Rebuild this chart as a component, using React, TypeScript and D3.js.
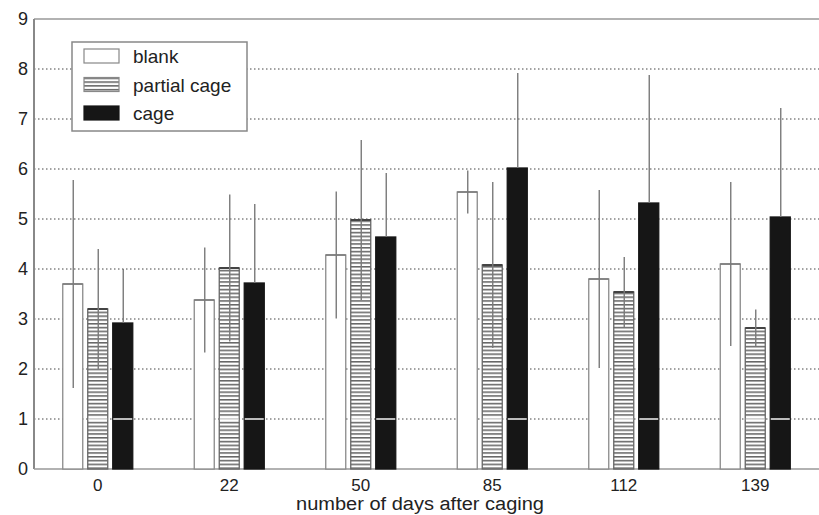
import React, { useEffect, useRef } from 'react';
import * as d3 from 'd3';

// days after caging (x categories)
const days = ['0', '22', '50', '85', '112', '139'];
const seriesNames = ['blank', 'partial cage', 'cage'];

// means
const blank = [3.7, 3.38, 4.28, 5.54, 3.8, 4.1];
const partialCage = [3.2, 4.02, 4.98, 4.08, 3.54, 2.82];
const cage = [2.92, 3.72, 4.64, 6.02, 5.32, 5.04];

// error bar half-lengths
const blankErr = [2.08, 1.05, 1.27, 0.43, 1.78, 1.64];
const partialErr = [1.2, 1.47, 1.6, 1.66, 0.7, 0.37];
const cageErr = [1.08, 1.58, 1.28, 1.9, 2.56, 2.18];

const yTicks = [0, 1, 2, 3, 4, 5, 6, 7, 8, 9];

const W = 819;
const H = 515;

const App = () => {
  const ref = useRef<SVGSVGElement>(null);

  useEffect(() => {
    const svg = d3.select(ref.current);
    svg.selectAll('*').remove();

    const left = 34;
    const font = 'Liberation Sans, Arial, sans-serif';

    const x0 = d3.scaleBand().domain(days).range([32, 821]).padding(0);
    const bw = x0.bandwidth();
    const x1 = d3.scaleBand().domain(seriesNames)
      .range([bw / 2 - 35, bw / 2 + 35]).paddingInner(0.2);
    const y = d3.scaleLinear().domain([0, 9]).range([469, 19]);

    const rows = days.map((d, i) => ({
      day: d,
      vals: [
        { s: 'blank', v: blank[i], e: blankErr[i] },
        { s: 'partial cage', v: partialCage[i], e: partialErr[i] },
        { s: 'cage', v: cage[i], e: cageErr[i] },
      ],
    }));

    // hatch pattern for partial cage
    const defs = svg.append('defs');
    const pat = defs.append('pattern')
      .attr('id', 'hatch')
      .attr('patternUnits', 'userSpaceOnUse')
      .attr('width', 8)
      .attr('height', 3.8);
    pat.append('rect').attr('width', 8).attr('height', 3.8).attr('fill', '#fff');
    pat.append('line')
      .attr('x1', 0).attr('x2', 8).attr('y1', 0.8).attr('y2', 0.8)
      .attr('stroke', '#555').attr('stroke-width', 1.4);

    const fillFor = (s: string) => s === 'blank' ? '#fff' : s === 'cage' ? '#161616' : 'url(#hatch)';

    // grid lines
    svg.append('g')
      .selectAll('line')
      .data(yTicks.filter(t => t > 0 && t < 9))
      .enter().append('line')
      .attr('x1', left).attr('x2', W)
      .attr('y1', d => y(d)).attr('y2', d => y(d))
      .attr('stroke', '#444')
      .attr('stroke-width', 1)
      .attr('stroke-dasharray', '1.5,2.5');

    // frame: top, left, bottom
    svg.append('line').attr('x1', left).attr('x2', W).attr('y1', y(9)).attr('y2', y(9))
      .attr('stroke', '#999').attr('stroke-width', 1.5);
    svg.append('line').attr('x1', left).attr('x2', left).attr('y1', y(9)).attr('y2', y(0))
      .attr('stroke', '#888').attr('stroke-width', 2);
    svg.append('line').attr('x1', left).attr('x2', W).attr('y1', y(0)).attr('y2', y(0))
      .attr('stroke', '#999').attr('stroke-width', 1.5);

    // bars
    const groups = svg.append('g')
      .selectAll('g')
      .data(rows)
      .enter().append('g')
      .attr('transform', d => `translate(${x0(d.day)},0)`);

    groups.selectAll('rect')
      .data(d => d.vals)
      .enter().append('rect')
      .attr('x', d => x1(d.s)!)
      .attr('y', d => y(d.v))
      .attr('width', x1.bandwidth())
      .attr('height', d => y(0) - y(d.v))
      .attr('fill', d => fillFor(d.s))
      .attr('stroke', d => d.s === 'cage' ? '#161616' : d.s === 'blank' ? '#8a8a8a' : '#666')
      .attr('stroke-width', 1.3);

    // bar tops a bit darker
    groups.selectAll('line.top')
      .data(d => d.vals.filter(v => v.s !== 'cage'))
      .enter().append('line')
      .attr('class', 'top')
      .attr('x1', d => x1(d.s)!)
      .attr('x2', d => x1(d.s)! + x1.bandwidth())
      .attr('y1', d => y(d.v)).attr('y2', d => y(d.v))
      .attr('stroke', d => d.s === 'blank' ? '#777' : '#444')
      .attr('stroke-width', d => d.s === 'blank' ? 1.5 : 2);

    // white grid line across the filled bars at 1
    groups.selectAll('line.w')
      .data(d => d.vals.filter(v => v.s !== 'blank'))
      .enter().append('line')
      .attr('class', 'w')
      .attr('x1', d => x1(d.s)! + 0.5)
      .attr('x2', d => x1(d.s)! + x1.bandwidth() - 0.5)
      .attr('y1', y(1)).attr('y2', y(1))
      .attr('stroke', '#f4f4f4')
      .attr('stroke-width', 1.5);

    // error bars
    groups.selectAll('line.err')
      .data(d => d.vals)
      .enter().append('line')
      .attr('class', 'err')
      .attr('x1', d => x1(d.s)! + x1.bandwidth() / 2 + 0.5)
      .attr('x2', d => x1(d.s)! + x1.bandwidth() / 2 + 0.5)
      .attr('y1', d => y(d.v + d.e))
      .attr('y2', d => d.s === 'cage' ? y(d.v) : y(d.v - d.e))
      .attr('stroke', '#7a7a7a')
      .attr('stroke-width', 1.4);

    // y tick labels
    svg.append('g')
      .selectAll('text')
      .data(yTicks)
      .enter().append('text')
      .attr('x', 28)
      .attr('y', d => y(d))
      .attr('dy', '0.36em')
      .attr('text-anchor', 'end')
      .style('font-family', font)
      .style('font-size', '18px')
      .attr('fill', '#222')
      .text(d => d);

    // x tick labels
    svg.append('g')
      .selectAll('text')
      .data(days)
      .enter().append('text')
      .attr('x', d => x0(d)! + bw / 2)
      .attr('y', 491)
      .attr('text-anchor', 'middle')
      .style('font-family', font)
      .style('font-size', '17px')
      .attr('fill', '#222')
      .text(d => d);

    svg.append('text')
      .attr('x', 420)
      .attr('y', 510)
      .attr('text-anchor', 'middle')
      .style('font-family', font)
      .style('font-size', '18px')
      .attr('textLength', 248)
      .attr('lengthAdjust', 'spacingAndGlyphs')
      .attr('fill', '#222')
      .text('number of days after caging');

    // legend
    const lg = svg.append('g');
    lg.append('rect')
      .attr('x', 72).attr('y', 42).attr('width', 175).attr('height', 89)
      .attr('fill', '#fff').attr('stroke', '#888').attr('stroke-width', 1.5);
    const items = lg.selectAll('g')
      .data(seriesNames)
      .enter().append('g')
      .attr('transform', (d, i) => `translate(84,${49 + i * 28.5})`);
    items.append('rect')
      .attr('width', 35).attr('height', 14)
      .attr('fill', d => fillFor(d))
      .attr('stroke', d => d === 'cage' ? '#161616' : '#888')
      .attr('stroke-width', 1.2);
    items.append('text')
      .attr('x', 49)
      .attr('y', 14)
      .style('font-family', font)
      .style('font-size', '19px')
      .attr('fill', '#222')
      .text(d => d);
  }, []);

  return <svg ref={ref} width={W} height={H} style={{ display: 'block', position: 'absolute', left: 0, top: 0 }} />;
};

export default App;
